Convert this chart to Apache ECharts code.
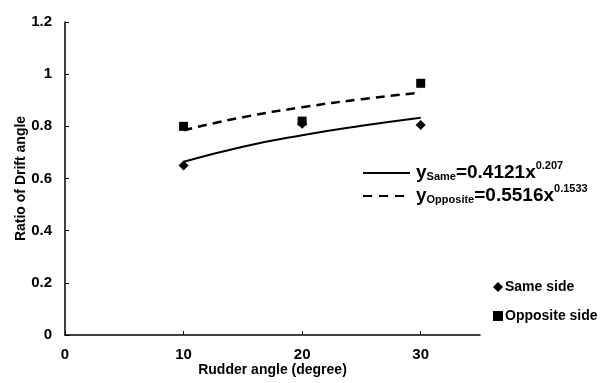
<!DOCTYPE html>
<html>
<head>
<meta charset="utf-8">
<script src="https://cdn.jsdelivr.net/npm/echarts@6/dist/echarts.min.js"></script>
<style>
html, body { margin: 0; padding: 0; background: #fff; }
#chart { width: 607px; height: 383px; }
</style>
</head>
<body>
<div id="chart"></div>
<script>
// measured points
var rudderAngles = [10, 20, 30];
var sameSide = [0.65, 0.81, 0.805];
var oppositeSide = [0.80, 0.82, 0.965];
// power trend lines
var fitX = [10, 15, 20, 25, 30];
var fitSame = [0.664, 0.722, 0.766, 0.802, 0.833];
var fitOpposite = [0.785, 0.835, 0.873, 0.904, 0.929];
var yTicks = [0, 0.2, 0.4, 0.6, 0.8, 1, 1.2];

var font = 'Arial, "Liberation Sans", sans-serif';

function pairs(xs, ys) {
	var out = [];
	for (var i = 0; i < xs.length; i++) {
		out.push([xs[i], ys[i]]);
	}
	return out;
}

var chart = echarts.init(document.getElementById('chart'));

var eqRich = {
	y: { fontSize: 19, fontWeight: 'bold', fontFamily: font, color: '#000', lineHeight: 22, verticalAlign: 'bottom' },
	sub: { fontSize: 11, fontWeight: 'bold', fontFamily: font, color: '#000', lineHeight: 11, verticalAlign: 'bottom' },
	sup: { fontSize: 11, fontWeight: 'bold', fontFamily: font, color: '#000', lineHeight: 16, verticalAlign: 'top' }
};

var option = {
	animation: false,
	backgroundColor: '#fff',
	grid: { left: 65, right: 127, top: 22, bottom: 48, outerBoundsMode: 'none' },
	xAxis: {
		type: 'value',
		min: 0, max: 35, interval: 10,
		name: 'Rudder angle (degree)',
		nameLocation: 'middle',
		nameGap: 28,
		nameMoveOverlap: false,
		nameTextStyle: { fontSize: 14, fontWeight: 'bold', fontFamily: font, color: '#000' },
		axisLine: { lineStyle: { color: '#000', width: 1.5 } },
		axisTick: { inside: true, length: 4, lineStyle: { color: '#000' } },
		axisLabel: { showMaxLabel: false, margin: 12, fontSize: 15, fontWeight: 'bold', fontFamily: font, color: '#000' },
		splitLine: { show: false }
	},
	yAxis: {
		type: 'value',
		min: yTicks[0], max: yTicks[yTicks.length - 1], interval: 0.2,
		name: 'Ratio of Drift angle',
		nameLocation: 'middle',
		nameGap: 37,
		nameMoveOverlap: false,
		nameTextStyle: { fontSize: 14, fontWeight: 'bold', fontFamily: font, color: '#000' },
		axisLine: { show: true, lineStyle: { color: '#000', width: 1.5 } },
		axisTick: { show: true, inside: true, length: 4, lineStyle: { color: '#000' } },
		axisLabel: { margin: 13, fontSize: 15, fontWeight: 'bold', fontFamily: font, color: '#000' },
		splitLine: { show: false }
	},
	legend: {
		data: ['Same side', 'Opposite side'],
		orient: 'vertical',
		left: 488,
		top: 275,
		itemGap: 15,
		itemWidth: 10,
		itemHeight: 10,
		textStyle: { fontSize: 14, fontWeight: 'bold', fontFamily: font, color: '#000', padding: [0, 0, 0, -3] }
	},
	graphic: [
		{ type: 'line', shape: { x1: 363, y1: 173, x2: 410, y2: 173 }, style: { stroke: '#000', lineWidth: 2 } },
		{ type: 'line', shape: { x1: 363, y1: 196, x2: 410, y2: 196 }, style: { stroke: '#000', lineWidth: 2, lineDash: [9, 7] } },
		{
			type: 'text', left: 416, top: 160,
			style: { text: '{y|y}{sub|Same}{y|=0.4121x}{sup|0.207}', rich: eqRich }
		},
		{
			type: 'text', left: 416, top: 183,
			style: { text: '{y|y}{sub|Opposite}{y|=0.5516x}{sup|0.1533}', rich: eqRich }
		}
	],
	series: [{
		name: 'Same fit',
		type: 'line',
		smooth: true,
		symbol: 'none',
		lineStyle: { color: '#000', width: 2 },
		data: pairs(fitX, fitSame),
		z: 2
	}, {
		name: 'Opposite fit',
		type: 'line',
		smooth: true,
		symbol: 'none',
		lineStyle: { color: '#000', width: 2.5, type: [9, 6] },
		data: pairs(fitX, fitOpposite),
		z: 2
	}, {
		name: 'Same side',
		type: 'scatter',
		symbol: 'diamond',
		symbolSize: 10,
		itemStyle: { color: '#000', opacity: 1 },
		data: pairs(rudderAngles, sameSide),
		z: 3
	}, {
		name: 'Opposite side',
		type: 'scatter',
		symbol: 'rect',
		symbolSize: 9,
		itemStyle: { color: '#000', opacity: 1 },
		data: pairs(rudderAngles, oppositeSide),
		z: 3
	}]
};

chart.setOption(option);
</script>
</body>
</html>
